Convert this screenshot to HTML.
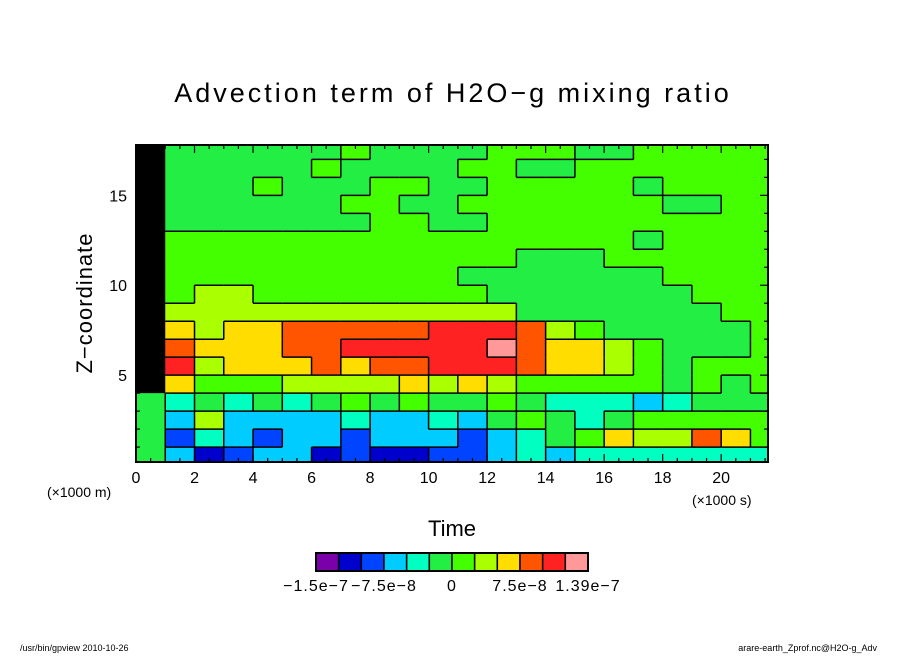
<!DOCTYPE html>
<html><head><meta charset="utf-8">
<style>
body{margin:0;background:#fff;}
svg text{font-family:"Liberation Sans",sans-serif;fill:#000;}
</style></head>
<body>
<svg id="chart" width="904" height="654" viewBox="0 0 904 654" xmlns="http://www.w3.org/2000/svg">
<rect width="904" height="654" fill="#fff"/>
<text x="453" y="102" font-size="27" text-anchor="middle" letter-spacing="3">Advection term of H2O−g mixing ratio</text>
<g id="field"></g>
<g id="lines"></g>
<rect x="136" y="145" width="632" height="317" fill="none" stroke="#000" stroke-width="2"/>
<g id="ticks"></g>
<text x="0" y="0" font-size="22" text-anchor="middle" letter-spacing="1" transform="translate(92,303) rotate(-90)">Z−coordinate</text>
<text x="47" y="497" font-size="14">(×1000 m)</text>
<text x="692" y="505" font-size="14">(×1000 s)</text>
<text x="452" y="536" font-size="22" text-anchor="middle">Time</text>
<g id="cbar"></g>
<text x="20" y="651" font-size="9">/usr/bin/gpview  2010-10-26</text>
<text x="877" y="651" font-size="9" text-anchor="end">arare-earth_Zprof.nc@H2O-g_Adv</text>
</svg>
<script>
const levelColors=["#7a00aa","#0000cc","#0044ff","#00ccff","#00ffc0","#22ee44","#44ff00","#aaff00","#ffdd00","#ff5500","#ff2222","#ff9999"];
const cbarLabels=["−1.5e−7","−7.5e−8","0","7.5e−8","1.39e−7"];
const cbarLabelIdx=[0,3,6,9,12];
const xTicks=[0,2,4,6,8,10,12,14,16,18,20];
const yTicks=[5,10,15];
// rows from z=17 (top) down to z=0; columns t=0..21 (kilo-seconds); k = dense black lines
const fieldRows=[
"k555555655556665566666",
"k555556555566556666666",
"k555655566556666656666",
"k555555665566666665566",
"k555555566556666666666",
"k666666666666666656666",
"k666666666666555666666",
"k666666666655555556666",
"k677666666665555555666",
"k777777777777555555566",
"k878899999aaa976555556",
"k988899aaaaab988765556",
"ka78889899aaa988765666",
"k866677778787666665656",
"5454545656556544434555",
"5373333433435654566666",
"5243233233323456877986",
"5312331211223434444444"
];
const ns="http://www.w3.org/2000/svg";
const X0=136,X1=768,Y0=145,Y1=462,TMAX=21.6,ZMAX=17.8,ZMIN=0.17;
const xs=t=>X0+(t/TMAX)*(X1-X0);
const ys=z=>Y1-((z-ZMIN)/(ZMAX-ZMIN))*(Y1-Y0);
function mk(tag,attrs,parent){const e=document.createElementNS(ns,tag);for(const k in attrs)e.setAttribute(k,attrs[k]);parent.appendChild(e);return e;}
const field=document.getElementById('field');
const lines=document.getElementById('lines');
const nr=fieldRows.length;
function lev(r,c){const s=fieldRows[r];const ch=s[Math.min(c,s.length-1)];return ch==='k'?-1:parseInt(ch,16);}
for(let r=0;r<nr;r++){
  const z=nr-1-r;
  for(let c=0;c<22;c++){
    const v=lev(r,c);
    const xa=xs(c),xb=Math.min(xs(c+1),X1);
    const ya=ys(Math.min(z+1,ZMAX)),yb=ys(Math.max(z,ZMIN));
    const rc=mk('rect',{x:xa,y:ya,width:xb-xa+0.5,height:yb-ya+0.5,fill:v<0?'#000':levelColors[v]},field);
    
    
    if(c<21){const v2=lev(r,c+1);if(v2!==v&&v>=0&&v2>=0){const l=mk('line',{x1:xb,x2:xb,y1:ya,y2:yb,stroke:'#000','stroke-width':1.5},lines);}}
    if(r<nr-1){const v2=lev(r+1,c);if(v2!==v&&v>=0&&v2>=0){const l=mk('line',{x1:xa,x2:xb,y1:yb,y2:yb,stroke:'#000','stroke-width':1.5},lines);}}
  }
}
const ticks=document.getElementById('ticks');
for(let t=0;t<=21.5;t+=0.5){
  const maj=(t%2===0);const L=maj?8:4;const x=xs(t);
  mk('line',{x1:x,x2:x,y1:Y1,y2:Y1-L,stroke:'#000','stroke-width':1.2},ticks);
  mk('line',{x1:x,x2:x,y1:Y0,y2:Y0+L,stroke:'#000','stroke-width':1.2},ticks);
}
for(let z=1;z<=17;z++){
  const maj=(z%5===0);const L=maj?8:4;const y=ys(z);
  mk('line',{x1:X0,x2:X0+L,y1:y,y2:y,stroke:'#000','stroke-width':1.2},ticks);
  mk('line',{x1:X1,x2:X1-L,y1:y,y2:y,stroke:'#000','stroke-width':1.2},ticks);
}
xTicks.forEach(t=>{const e=mk('text',{x:xs(t),y:483,'font-size':16,'text-anchor':'middle'},ticks);e.textContent=t;

});
yTicks.forEach(z=>{const e=mk('text',{x:127,y:ys(z)+6,'font-size':16,'text-anchor':'end'},ticks);e.textContent=z;

});
const cbar=document.getElementById('cbar');
const CX=316,CW=272,CY=553,CH=18,cw=CW/levelColors.length;
levelColors.forEach((col,i)=>{const r=mk('rect',{x:CX+i*cw,y:CY,width:cw,height:CH,fill:col,stroke:'#000','stroke-width':1.5},cbar);

});
mk('rect',{x:CX,y:CY,width:CW,height:CH,fill:'none',stroke:'#000','stroke-width':2},cbar);
cbarLabels.forEach((s,i)=>{const e=mk('text',{x:CX+cbarLabelIdx[i]*cw,y:591,'font-size':16,'text-anchor':'middle','letter-spacing':1},cbar);
e.textContent=s;

});
</script>
</body></html>
